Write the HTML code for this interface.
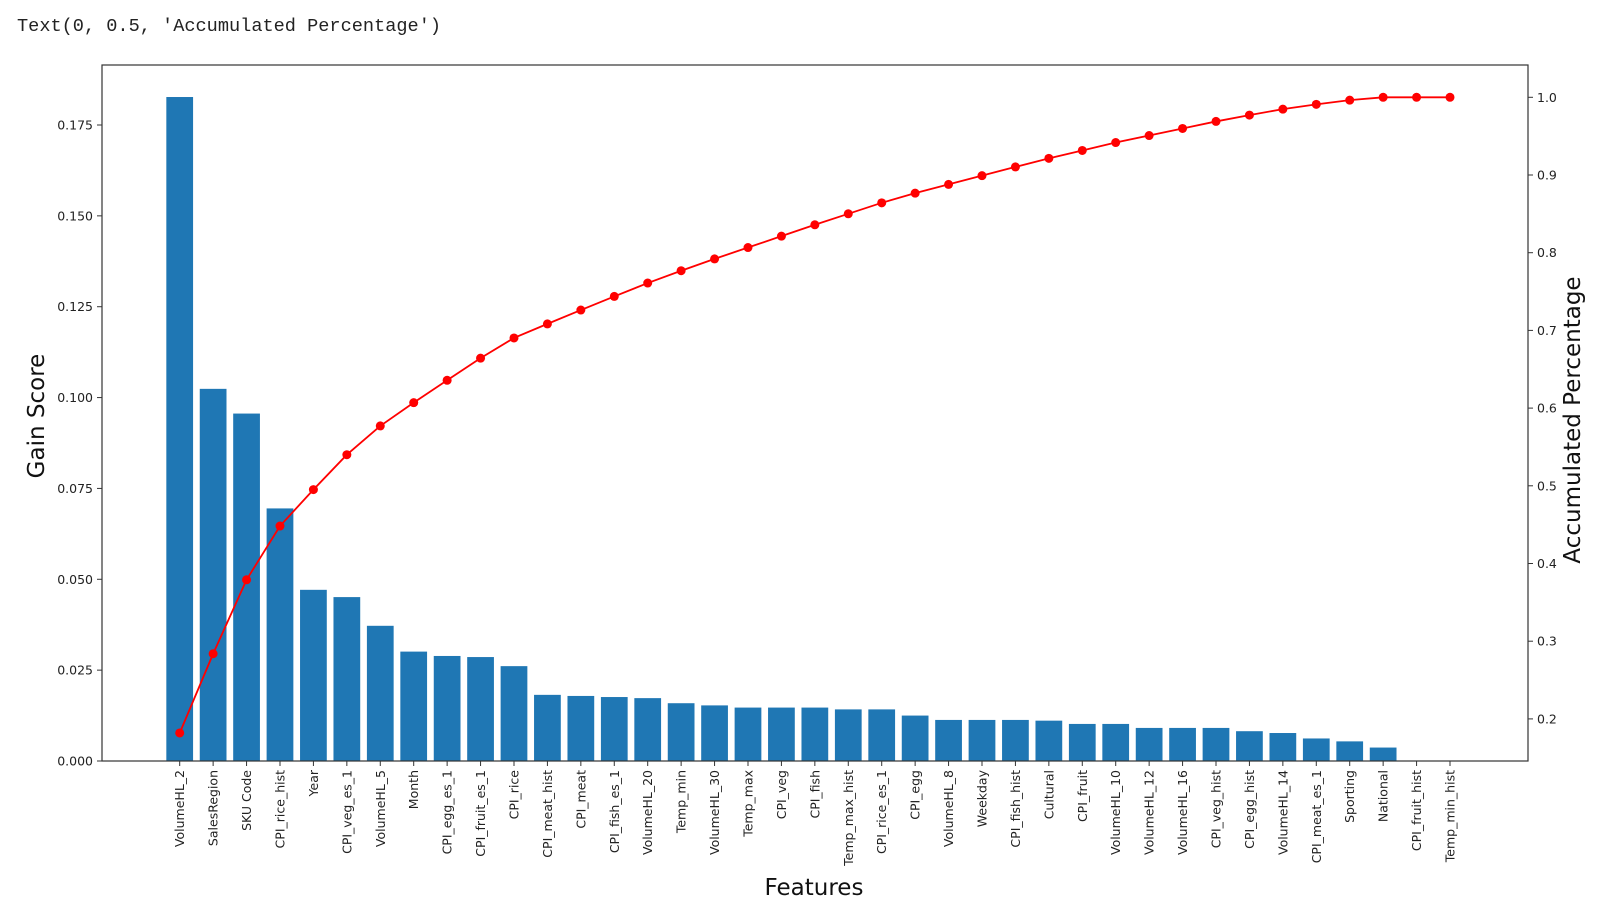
<!DOCTYPE html>
<html><head><meta charset="utf-8"><style>
html,body{margin:0;padding:0;background:#fff;}
svg{display:block;font-family:"DejaVu Sans","Liberation Sans",sans-serif;}
</style></head><body>
<svg id="chart" width="1616" height="922" viewBox="0 0 1616 922">
<text x="17" y="31" font-family="'Liberation Mono','Noto Serif CJK SC',monospace" font-size="18.6" fill="#222">Text(0, 0.5, 'Accumulated Percentage')</text>
<g id="bars"></g>
<g id="line"></g>
<g id="axes"></g>
</svg>
<script>
const features = ["VolumeHL_2","SalesRegion","SKU Code","CPI_rice_hist","Year","CPI_veg_es_1","VolumeHL_5","Month","CPI_egg_es_1","CPI_fruit_es_1","CPI_rice","CPI_meat_hist","CPI_meat","CPI_fish_es_1","VolumeHL_20","Temp_min","VolumeHL_30","Temp_max","CPI_veg","CPI_fish","Temp_max_hist","CPI_rice_es_1","CPI_egg","VolumeHL_8","Weekday","CPI_fish_hist","Cultural","CPI_fruit","VolumeHL_10","VolumeHL_12","VolumeHL_16","CPI_veg_hist","CPI_egg_hist","VolumeHL_14","CPI_meat_es_1","Sporting","National","CPI_fruit_hist","Temp_min_hist"];
const gain = [0.1827,0.1024,0.0956,0.0695,0.0471,0.0451,0.0372,0.0301,0.0289,0.0286,0.0261,0.0182,0.0179,0.0176,0.0173,0.0159,0.0153,0.0147,0.0147,0.0147,0.0142,0.0142,0.0125,0.0113,0.0113,0.0113,0.0111,0.0102,0.0102,0.0091,0.0091,0.0091,0.0082,0.0077,0.0062,0.0054,0.0037,0,0];
const leftTicks = [0,0.025,0.05,0.075,0.1,0.125,0.15,0.175];
const leftTickLabels = ["0.000","0.025","0.050","0.075","0.100","0.125","0.150","0.175"];
const rightTicks = [0.2,0.3,0.4,0.5,0.6,0.7,0.8,0.9,1.0];
const rightTickLabels = ["0.2","0.3","0.4","0.5","0.6","0.7","0.8","0.9","1.0"];

const NS="http://www.w3.org/2000/svg";
const L=102,R=1528,T=65,B=761;
const x0=179.7, step=(1450-179.7)/38;
const xPos=i=>x0+i*step;
const yL=v=>B-v*(B-125)/0.175;
const yR=v=>97.3+(1.0-v)*777;
function mk(tag,attrs,parent){const e=document.createElementNS(NS,tag);for(const k in attrs)e.setAttribute(k,attrs[k]);parent.appendChild(e);return e;}
const bars=document.getElementById('bars'),line=document.getElementById('line'),axes=document.getElementById('axes');
const bw=step*0.8;
gain.forEach((g,i)=>{
  const r=mk('rect',{x:xPos(i)-bw/2,y:yL(g),width:bw,height:B-yL(g),fill:'#1f77b4'},bars);
  
  
});
const total=gain.reduce((a,b)=>a+b,0);
let c=0;const pts=gain.map((g,i)=>{c+=g;return [xPos(i),yR(c/total)];});
const pl=mk('polyline',{points:pts.map(p=>p.join(',')).join(' '),fill:'none',stroke:'#ff0000','stroke-width':1.8},line);


pts.forEach(p=>{const d=mk('circle',{cx:p[0],cy:p[1],r:4.5,fill:'#ff0000'},line);
  
  });
const fr=mk('rect',{x:L,y:T,width:R-L,height:B-T,fill:'none',stroke:'#333','stroke-width':1.2},axes);


leftTicks.forEach((v,i)=>{const y=yL(v);mk('line',{x1:L-5,x2:L,y1:y,y2:y,stroke:'#333'},axes);
  const t=mk('text',{x:L-9,y:y+4.5,'text-anchor':'end','font-size':12.5,fill:'#222'},axes);t.textContent=leftTickLabels[i];
  
  });
rightTicks.forEach((v,i)=>{const y=yR(v);mk('line',{x1:R,x2:R+5,y1:y,y2:y,stroke:'#333'},axes);
  const t=mk('text',{x:R+9,y:y+4.5,'font-size':12.5,fill:'#222'},axes);t.textContent=rightTickLabels[i];
  
  });
features.forEach((f,i)=>{const x=xPos(i);mk('line',{x1:x,x2:x,y1:B,y2:B+5,stroke:'#333'},axes);
  const t=mk('text',{x:0,y:0,'text-anchor':'end','font-size':12.5,fill:'#222',transform:`translate(${x+4.5},${B+9}) rotate(-90)`},axes);t.textContent=f;
  
  });
let t=mk('text',{x:814,y:895,'text-anchor':'middle','font-size':23,fill:'#111'},axes);t.textContent='Features';


t=mk('text',{x:0,y:0,'text-anchor':'middle','font-size':23,fill:'#111',transform:'translate(44,416) rotate(-90)'},axes);t.textContent='Gain Score';


t=mk('text',{x:0,y:0,'text-anchor':'middle','font-size':23,fill:'#111',transform:'translate(1580,420) rotate(-90)'},axes);t.textContent='Accumulated Percentage';


</script>
</body></html>
